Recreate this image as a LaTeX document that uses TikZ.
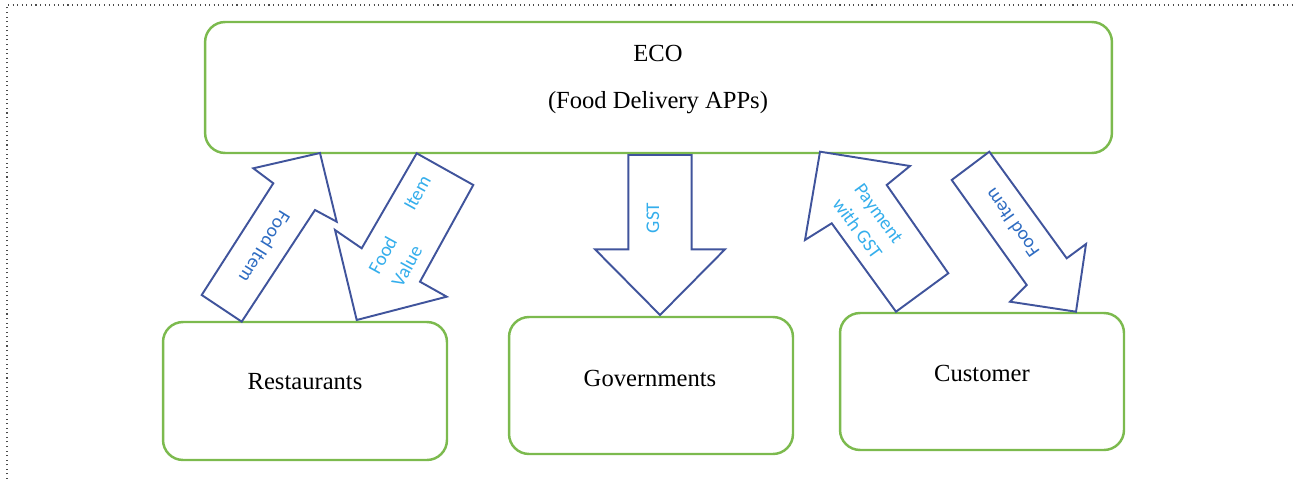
\documentclass[tikz,border=0pt]{standalone}
\usepackage{fontspec}
\setmainfont{Liberation Serif}
\newfontfamily\arrowfont{Carlito}
\usetikzlibrary{positioning}

\definecolor{boxgreen}{RGB}{124,186,78}
\definecolor{arrowblue}{RGB}{64,84,156}
\definecolor{lightlabel}{RGB}{52,174,236}
\definecolor{darklabel}{RGB}{46,108,194}

\tikzset{
  entity/.style={rectangle, rounded corners=0.4cm, draw=boxgreen, line width=1.4pt, minimum width=5.68cm},
  entitytext/.style={font=\fontsize{14}{17}\selectfont},
  blockarrow/.style={draw=arrowblue, line width=1.1pt, line join=miter, fill=white},
  flowlabel/.style={font=\arrowfont\fontsize{11}{15}\selectfont, text=lightlabel, inner sep=0pt},
}

\begin{document}
\begin{tikzpicture}[x=0.02cm, y=-0.02cm]

    \useasboundingbox (0,0) rectangle (1293,479);

    % Frame
    \draw[dotted, gray!60!black, line width=0.6pt] (7,479) -- (7,5) -- (1293,5);

    % Nodes
    \node[entity, minimum width=18.14cm, minimum height=2.62cm] (eco) at (658.5,87.5) {};
    \node[entity, minimum height=2.76cm] (rest) at (305,391) {};
    \node[entity, minimum height=2.74cm] (gov) at (651,385.5) {};
    \node[entity, minimum height=2.74cm] (cust) at (982,381.5) {};

    \node[entitytext] (econame) at (658,53) {ECO};
    \node[entitytext] (ecosub) at (658,103) {(Food Delivery APPs)};
    \node[entitytext] (restname) at (305,382) {Restaurants};
    \node[entitytext] (govname) at (650,378) {Governments};
    \node[entitytext] (custname) at (982,373) {Customer};

    % Block arrows
    \draw[blockarrow] (320,153) -- (336.7,221.7) -- (315,210) -- (241.7,321.7)
      -- (201.7,295) -- (273.3,183.3) -- (253.3,168.3) -- cycle;
    \draw[blockarrow] (416.7,153.3) -- (473.3,185) -- (420,281.7) -- (446.7,296.7)
      -- (356.7,320) -- (335,230) -- (361.7,248.3) -- cycle;
    \draw[blockarrow] (628.3,155) -- (691.7,155) -- (691.7,249.3) -- (725,249.3)
      -- (660,315) -- (595,249.3) -- (628.3,249.3) -- cycle;
    \draw[blockarrow] (820,151.7) -- (910,166) -- (886.7,185) -- (948.3,273.3)
      -- (896,311.7) -- (831.7,223.3) -- (805,240) -- cycle;
    \draw[blockarrow] (989.3,151.7) -- (951.7,180) -- (1026.7,285) -- (1010,301.7)
      -- (1076,311.7) -- (1086,244) -- (1066.7,258.3) -- cycle;

    % Labels on the arrows
    \node[flowlabel, text=darklabel, rotate=-122] (supplylbl) at (265,247) {Food Item};
    \node[flowlabel, rotate=61, align=left] (valuelbl) at (411,231) {Food\hspace{19pt}Item\\Value};
    \node[flowlabel, rotate=90] (gstlbl) at (653,218) {GST};
    \node[flowlabel, rotate=-54, align=center] (paylbl) at (868,221) {Payment\\with GST};
    \node[flowlabel, text=darklabel, rotate=125] (deliverylbl) at (1012,223) {Food Item};

\end{tikzpicture}
\end{document}
